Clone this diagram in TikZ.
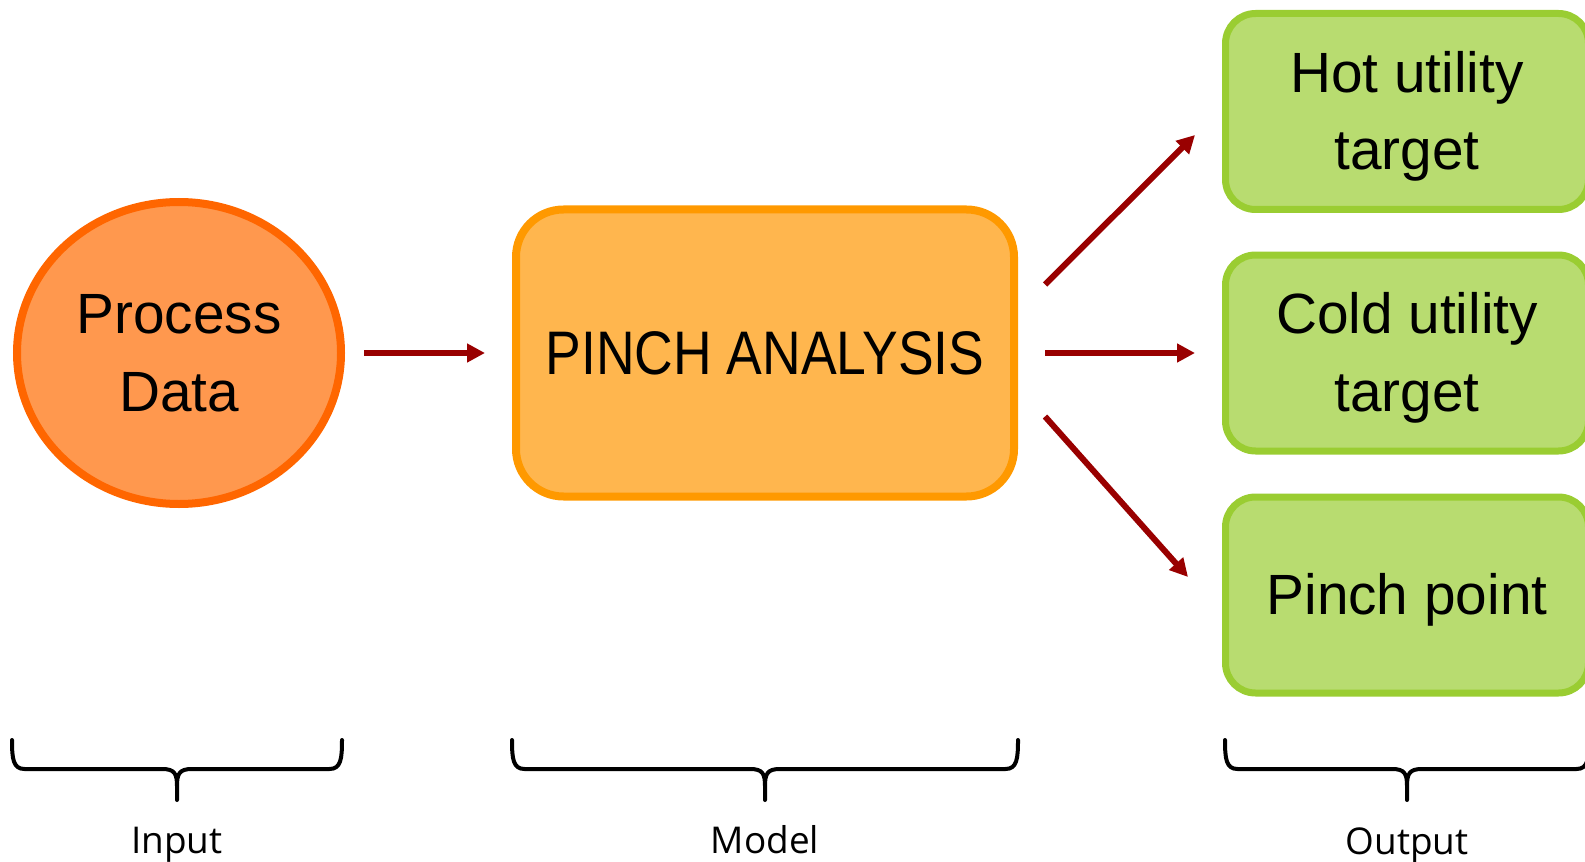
\documentclass[tikz,border=0pt]{standalone}
\usepackage{fontspec}
\setmainfont{Liberation Sans}
\newfontfamily\titlefont[FakeStretch=0.87]{Liberation Sans}
\newfontfamily\labelfont{Open Sans}
\usetikzlibrary{arrows.meta,positioning,shapes.geometric}

\definecolor{dataFill}{HTML}{FF984E}
\definecolor{dataDraw}{HTML}{FF6600}
\definecolor{modelFill}{HTML}{FFB64E}
\definecolor{modelDraw}{HTML}{FF9900}
\definecolor{outFill}{HTML}{B8DC70}
\definecolor{outDraw}{HTML}{9ACD32}
\definecolor{flowRed}{HTML}{990000}

\begin{document}
\begin{tikzpicture}[
      source/.style={ellipse,draw=dataDraw,fill=dataFill,line width=0.16cm,
                     minimum width=6.48cm,minimum height=6.04cm,inner sep=0pt,align=center,
                     text depth=-5pt,font=\fontsize{32.3}{44.2}\selectfont},
      model/.style={rectangle,draw=modelDraw,fill=modelFill,line width=0.16cm,
                    rounded corners=0.95cm,minimum width=9.96cm,minimum height=5.74cm,
                    align=center,font=\titlefont\fontsize{35}{42}\selectfont},
      target/.style={rectangle,draw=outDraw,fill=outFill,line width=0.14cm,
                     rounded corners=0.6cm,minimum width=7.26cm,minimum height=3.92cm,
                     align=center,text depth=1.2pt,font=\fontsize{32.3}{44.2}\selectfont},
      arrow/.style={-{Triangle[length=0.36cm,width=0.36cm]},line width=0.12cm,draw=flowRed},
      bracket/.style={draw=black,line width=0.08cm,line join=round,line cap=round},
      caption/.style={anchor=base,font=\labelfont\fontsize{21}{25}\selectfont}
    ]
    \useasboundingbox (0,0) rectangle (31.7,17.22);

    % Input
    \node[source] (data) at (3.58,10.16) {Process\\Data};

    % Model
    \node[model] (pinch) at (15.3,10.16) {PINCH ANALYSIS};

    % Outputs
    \node[target] (hot) at (28.14,14.99) {Hot utility\\target};
    \node[target] (cold) at (28.14,10.16) {Cold utility\\target};
    \node[target] (point) at (28.14,5.32) {Pinch point};

    % Flows
    \draw[arrow,shorten <=0.38cm,shorten >=0.54cm] (data) -- (pinch);
    \draw[arrow] ([shift={(0.54,1.37)}]pinch.east) -- ([shift={(-0.54,-0.47)}]hot.west);
    \draw[arrow] ([xshift=0.54cm]pinch.east) -- ([xshift=-0.54cm]cold.west);
    \draw[arrow] ([shift={(0.54,-1.27)}]pinch.east) -- ([shift={(-0.68,0.36)}]point.west);

    % Braces
    \draw[bracket] (0.24,2.42) .. controls (0.24,2.05) and (0.26,1.84) .. (0.49,1.84)
      -- (3.24,1.84) .. controls (3.49,1.84) and (3.54,1.75) .. (3.54,1.5) -- (3.54,1.22)
      (3.54,1.5) .. controls (3.54,1.75) and (3.59,1.84) .. (3.84,1.84) -- (6.59,1.84)
      .. controls (6.82,1.84) and (6.84,2.05) .. (6.84,2.42);
    \draw[bracket] (10.24,2.42) .. controls (10.24,2.05) and (10.26,1.84) .. (10.49,1.84)
      -- (15.0,1.84) .. controls (15.25,1.84) and (15.3,1.75) .. (15.3,1.5) -- (15.3,1.22)
      (15.3,1.5) .. controls (15.3,1.75) and (15.35,1.84) .. (15.6,1.84) -- (20.11,1.84)
      .. controls (20.34,1.84) and (20.36,2.05) .. (20.36,2.42);
    \draw[bracket] (24.5,2.42) .. controls (24.5,2.05) and (24.52,1.84) .. (24.75,1.84)
      -- (27.84,1.84) .. controls (28.09,1.84) and (28.14,1.75) .. (28.14,1.5) -- (28.14,1.22)
      (28.14,1.5) .. controls (28.14,1.75) and (28.19,1.84) .. (28.44,1.84) -- (31.53,1.84)
      .. controls (31.76,1.84) and (31.78,2.05) .. (31.78,2.42);

    % Labels
    \node[caption] (inputlbl) at (3.54,0.16) {Input};
    \node[caption] (modellbl) at (15.3,0.16) {Model};
    \node[caption] (outputlbl) at (28.14,0.14) {Output};

  \end{tikzpicture}
\end{document}
